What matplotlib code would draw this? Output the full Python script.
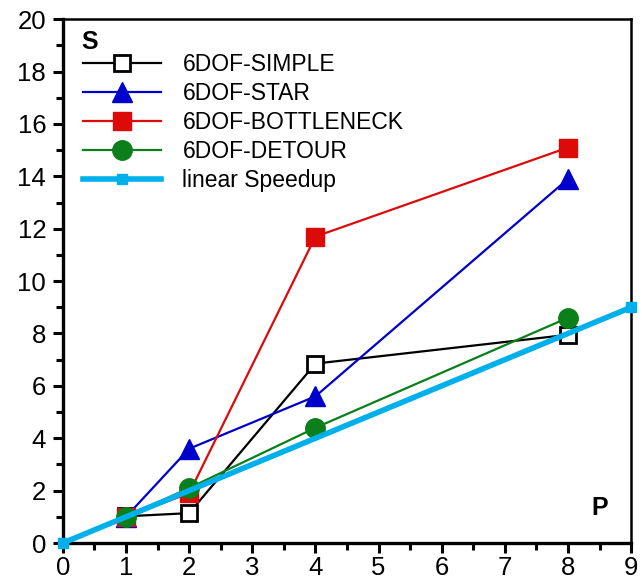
import matplotlib
matplotlib.use('Agg')
import matplotlib.pyplot as plt
from matplotlib.ticker import MultipleLocator

plt.rcParams['font.family'] = ['Liberation Sans', 'DejaVu Sans']

# processors and speedup values
p = [1, 2, 4, 8]
simple = [1.02, 1.14, 6.85, 7.95]
star = [1.0, 3.6, 5.6, 13.9]
bottleneck = [1.0, 1.9, 11.7, 15.1]
detour = [1.0, 2.1, 4.4, 8.6]
linear_p = [0, 9]
linear_s = [0, 9]

fig = plt.figure(figsize=(6.42, 5.82), dpi=100)
ax = fig.add_axes([0.098, 0.067, 0.885, 0.9])

ax.plot(p, simple, color='black', lw=1.6, marker='s', ms=12,
        mfc='white', mec='black', mew=2, label='6DOF-SIMPLE')
ax.plot(p, star, color='#0000cc', lw=1.6, marker='^', ms=15,
        mfc='#0000cc', mec='#0000cc', label='6DOF-STAR')
ax.plot(p, bottleneck, color='#dd0a0a', lw=1.6, marker='s', ms=13,
        mfc='#dd0a0a', mec='#dd0a0a', label='6DOF-BOTTLENECK')
ax.plot(p, detour, color='#0a7f1a', lw=1.6, marker='o', ms=14,
        mfc='#0a7f1a', mec='#0a7f1a', label='6DOF-DETOUR')
ax.plot(linear_p, linear_s, color='#00b0ea', lw=4, marker='s', ms=7,
        label='linear Speedup', clip_on=False, zorder=5)

ax.set_xlim(0, 9)
ax.set_ylim(0, 20)
ax.xaxis.set_major_locator(MultipleLocator(1))
ax.xaxis.set_minor_locator(MultipleLocator(0.5))
ax.yaxis.set_major_locator(MultipleLocator(2))
ax.yaxis.set_minor_locator(MultipleLocator(1))
ax.tick_params(which='major', direction='out', length=7, width=2.2, labelsize=18.5)
ax.tick_params(which='minor', direction='out', length=5, width=2.2)
ax.tick_params(axis='x', pad=2)
ax.tick_params(axis='y', pad=5)

for side in ['left', 'bottom']:
    ax.spines[side].set_linewidth(2.4)
for side in ['top', 'right']:
    ax.spines[side].set_linewidth(1.8)

ax.text(0.033, 0.98, 'S', transform=ax.transAxes, fontsize=18,
        fontweight='bold', va='top', ha='left')
ax.text(0.93, 0.09, 'P', transform=ax.transAxes, fontsize=18,
        fontweight='bold', va='top', ha='left')

ax.legend(loc='upper left', bbox_to_anchor=(0.035, 0.935), frameon=False,
          fontsize=16.5, handlelength=3.4, labelspacing=0.26,
          handletextpad=0.95, borderpad=0, borderaxespad=0)

fig.savefig('out.png', dpi=100)
